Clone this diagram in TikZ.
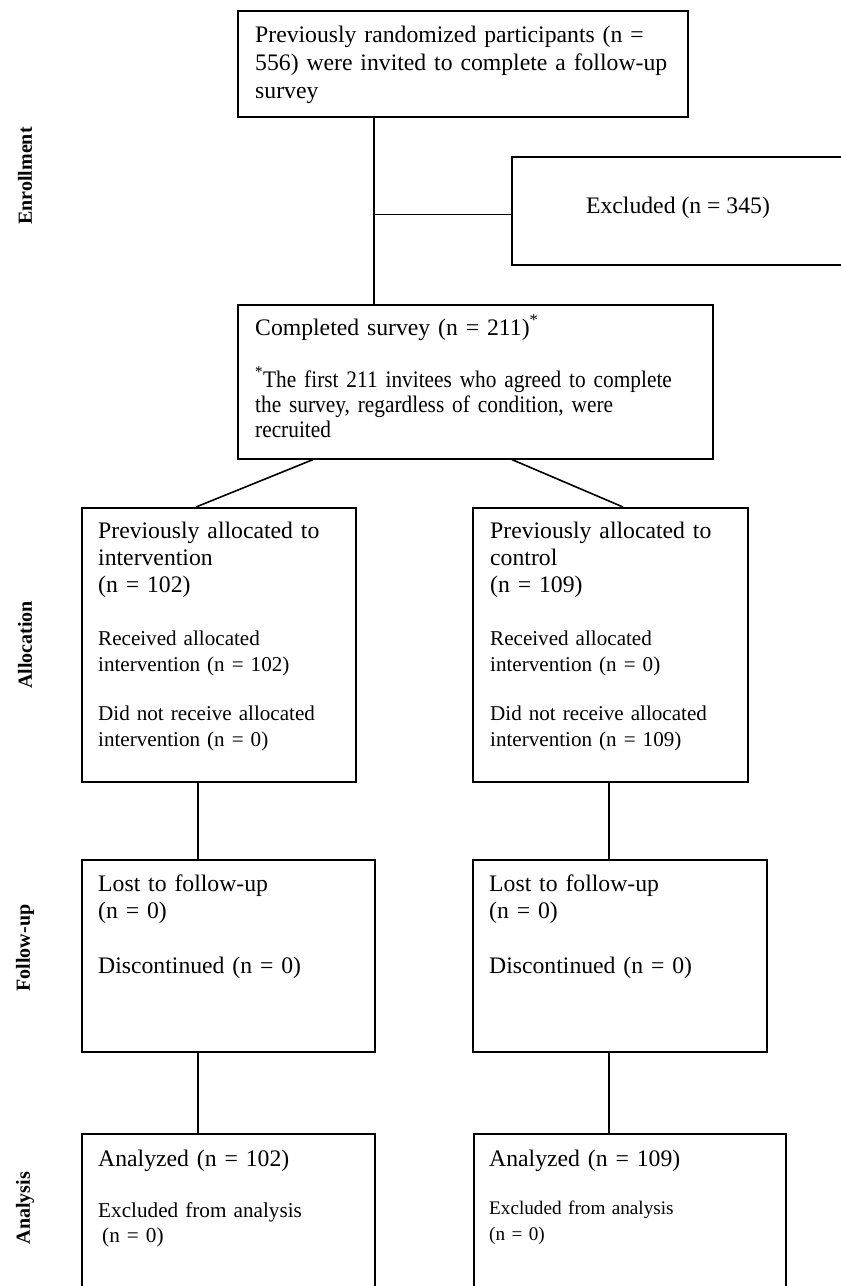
\documentclass[tikz,border=0pt]{standalone}
\usepackage{fontspec}
\setmainfont{Liberation Serif}
\newfontfamily\condfont[FakeStretch=0.9]{Liberation Serif}
\newcommand\fmain{\fontsize{23.7}{27}\selectfont}
\newcommand\fsmall{\fontsize{21.1}{26}\selectfont}
\newcommand\flab{\fontsize{20}{24}\selectfont\bfseries}
\begin{document}
\begin{tikzpicture}[x=1pt,y=-1pt,
  box/.style={draw, line width=1.6pt, rectangle, anchor=north west, inner sep=0pt},
  txt/.style={anchor=base west, inner sep=0pt, align=left, text width=#1},
  txt/.default=700pt,
  conn/.style={line width=1.6pt},
  lab/.style={rotate=90, inner sep=0pt, font=\flab}]
\useasboundingbox (0,0) rectangle (841,1286);
\clip (0,0) rectangle (841,1286);
% boxes
\node[box, minimum width=450pt, minimum height=106pt] (top) at (237,10) {};
\node[box, minimum width=334pt, minimum height=108pt] (excl) at (511,156) {};
\node[box, minimum width=475pt, minimum height=154pt] (comp) at (237,304) {};
\node[box, minimum width=274pt, minimum height=274pt] (allocL) at (81,507) {};
\node[box, minimum width=275pt, minimum height=274pt] (allocR) at (472,507) {};
\node[box, minimum width=293pt, minimum height=192pt] (fupL) at (81,859) {};
\node[box, minimum width=294pt, minimum height=192pt] (fupR) at (472,859) {};
\node[box, minimum width=293pt, minimum height=200pt] (anaL) at (81,1133) {};
\node[box, minimum width=312pt, minimum height=200pt] (anaR) at (473,1133) {};
% texts
\node[txt, font=\fontsize{23.7}{28}\selectfont] (ttop) at (255,42) {Previously randomized participants (n =\\556) were invited to complete a follow-up\\survey};
\node[anchor=base, inner sep=0pt, font=\fmain] (texcl) at (678,213) {Excluded (n = 345)};
\node[txt, font=\fmain] (tcomp) at (255,335) {Completed survey (n = 211)\textsuperscript{*}};
\node[txt, font=\fontsize{23.7}{25}\selectfont\condfont] (tcompn) at (255,387) {\textsuperscript{*}The first 211 invitees who agreed to complete\\the survey, regardless of condition, were\\recruited};
\node[txt, font=\fmain] (taL1) at (98,538) {Previously allocated to\\intervention\\(n = 102)};
\node[txt, font=\fsmall] (taL2) at (98,645) {Received allocated\\intervention (n = 102)};
\node[txt, font=\fsmall] (taL3) at (98,720) {Did not receive allocated\\intervention (n = 0)};
\node[txt, font=\fmain] (taR1) at (490,538) {Previously allocated to\\control\\(n = 109)};
\node[txt, font=\fsmall] (taR2) at (490,645) {Received allocated\\intervention (n = 0)};
\node[txt, font=\fsmall] (taR3) at (490,720) {Did not receive allocated\\intervention (n = 109)};
\node[txt, font=\fmain] (tfL1) at (98,891) {Lost to follow-up\\(n = 0)};
\node[txt, font=\fmain] (tfL2) at (98,973) {Discontinued (n = 0)};
\node[txt, font=\fmain] (tfR1) at (489,891) {Lost to follow-up\\(n = 0)};
\node[txt, font=\fmain] (tfR2) at (489,973) {Discontinued (n = 0)};
\node[txt, font=\fmain] (tnL1) at (98,1166) {Analyzed (n = 102)};
\node[txt, font=\fontsize{21.2}{25}\selectfont] (tnL2) at (98,1217) {Excluded from analysis\\\hspace*{4pt}(n = 0)};
\node[txt, font=\fmain] (tnR1) at (489,1166) {Analyzed (n = 109)};
\node[txt, font=\fontsize{19.2}{26}\selectfont] (tnR2) at (489,1214) {Excluded from analysis\\(n = 0)};
% stage labels
\node[lab] (lEnr) at (25,176) {Enrollment};
\node[lab] (lAll) at (25,645) {Allocation};
\node[lab] (lFol) at (25,948) {Follow-up};
\node[lab] (lAna) at (25,1208) {Analysis};
% connectors
\draw[conn] ([xshift=137pt]top.south west) -- ([xshift=137pt]comp.north west);
\coordinate (br) at ([xshift=137pt,yshift=-97pt]top.south west);
\draw[conn] (br) -- (br -| excl.west);
\draw[conn] ([xshift=76pt]comp.south west) -- ([xshift=115pt]allocL.north west);
\draw[conn] ([xshift=275pt]comp.south west) -- ([xshift=151pt]allocR.north west);
\draw[conn] ([xshift=117pt]allocL.south west) -- ([xshift=117pt]fupL.north west);
\draw[conn] ([xshift=137pt]allocR.south west) -- ([xshift=137pt]fupR.north west);
\draw[conn] ([xshift=117pt]fupL.south west) -- ([xshift=117pt]anaL.north west);
\draw[conn] ([xshift=137pt]fupR.south west) -- ([xshift=136pt]anaR.north west);
\end{tikzpicture}
\end{document}
